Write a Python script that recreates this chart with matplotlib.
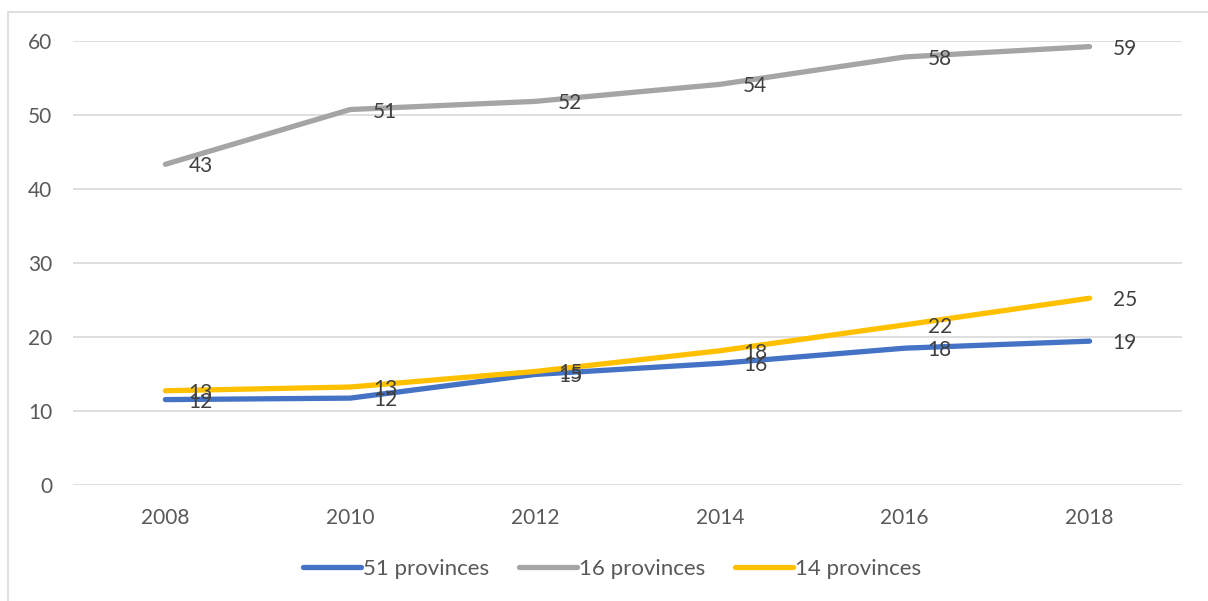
import matplotlib
matplotlib.use("Agg")
from matplotlib import pyplot as plt
from matplotlib.patches import Rectangle

plt.rcParams['font.family'] = ['Lato', 'DejaVu Sans']

years = ["2008", "2010", "2012", "2014", "2016", "2018"]
names = ["51 provinces", "16 provinces", "14 provinces"]
blue_vals = [11.5, 11.7, 14.9, 16.4, 18.45, 19.4]
gray_vals = [43.3, 50.7, 51.8, 54.1, 57.8, 59.2]
gold_vals = [12.7, 13.2, 15.3, 18.1, 21.6, 25.2]
colors = ["#4472C4", "#A5A5A5", "#FFC000"]

W, H = 1208, 601
fig = plt.figure(figsize=(W / 100, H / 100), dpi=100)
ax = fig.add_axes([73 / W, 1 - 484.7 / H, (1182 - 73) / W, (484.7 - 40.7) / H])

# chart border (runs off the right and bottom edges)
fig.patches.append(Rectangle((8 / W, -0.2), 1.2, 1.2 - 12 / H,
                             transform=fig.transFigure, fill=False,
                             edgecolor="#d9d9d9", linewidth=1.2))

x = list(range(len(years)))
for vals, name, c in zip([blue_vals, gray_vals, gold_vals], names, colors):
    ax.plot(x, vals, color=c, linewidth=3.8, solid_capstyle="round",
            solid_joinstyle="round", label=name, clip_on=False)

for vals in [blue_vals, gray_vals, gold_vals]:
    for xi, v in zip(x, vals):
        ax.annotate(f"{v:.0f}", (xi, v), xytext=(23, -2), textcoords="offset pixels",
                    ha="left", va="center", fontsize=15, color="#404040", zorder=5)

ax.set_xlim(-0.5, 5.5)
ax.set_ylim(0, 60)
ax.set_xticks(x)
ax.set_xticklabels(years)
ax.set_yticks(range(0, 61, 10))
ax.grid(axis="y", color="#d9d9d9", linewidth=1.2)
ax.set_axisbelow(True)
for s in ax.spines.values():
    s.set_visible(False)
ax.tick_params(axis="both", length=0, labelsize=15, labelcolor="#595959")
ax.tick_params(axis="y", pad=15)
ax.tick_params(axis="x", pad=17)

fig.legend(loc="center", bbox_to_anchor=(612 / W, 1 - 569 / H), ncol=3,
           frameon=False, fontsize=16, labelcolor="#595959",
           handlelength=2.6, handletextpad=0.1, columnspacing=1.35)

fig.savefig("out.png", dpi=100)
